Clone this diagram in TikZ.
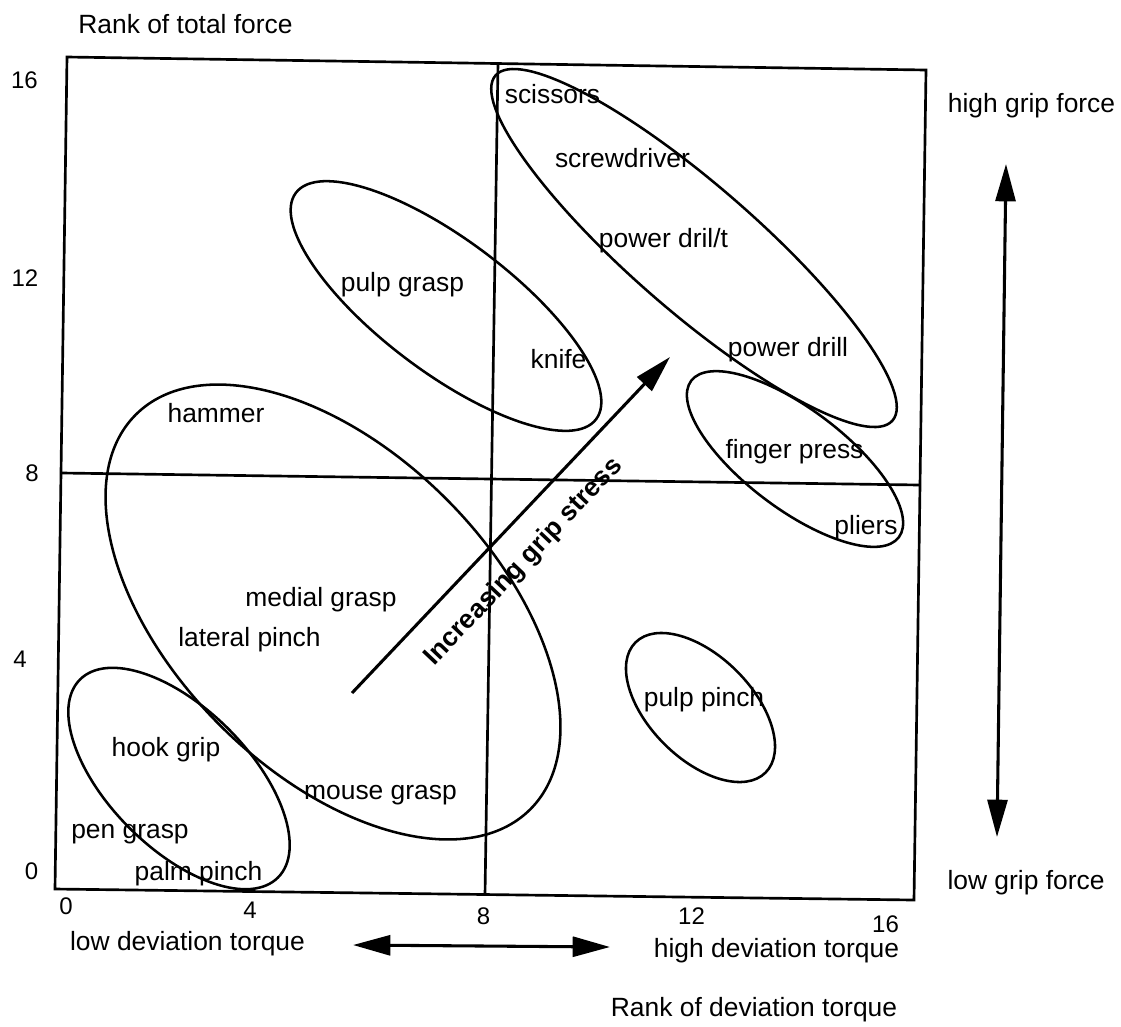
\documentclass[tikz,border=0pt]{standalone}
\usepackage{fontspec}
\setmainfont{Liberation Sans}
\usetikzlibrary{arrows.meta}

\begin{document}
\begin{tikzpicture}[x=0.75pt,y=-0.75pt]
        \tikzstyle{frame} = [line width=2pt]
        \tikzstyle{region} = [line width=1.9pt]
        \tikzstyle{tool} = [inner sep=0pt, anchor=base, font=\fontsize{19.8pt}{24pt}\selectfont]
        \tikzstyle{ticknum} = [inner sep=0pt, anchor=base, font=\fontsize{18pt}{21pt}\selectfont]
        \tikzstyle{dblarrow} = [line width=2.3pt, >={Triangle[length=28pt,width=15pt]}]
        \useasboundingbox (0,0) rectangle (1121,1026);

        % chart frame and the two mid lines
        \coordinate (tl) at (67,57);
        \coordinate (tr) at (926,70);
        \coordinate (br) at (914,900);
        \coordinate (bl) at (55,889);
        \coordinate (midleft) at (62,473);
        \coordinate (midright) at (920,485);
        \coordinate (midtop) at (498,63);
        \coordinate (midbottom) at (485,895);
        \draw [frame] (tl) -- (tr) -- (br) -- (bl) -- cycle;
        \draw [frame] (midleft) -- (midright);
        \draw [frame] (midtop) -- (midbottom);

        % tick numbers
        \node (y16) [ticknum] at (24.5,88) {16};
        \node (y12) [ticknum] at (25,286) {12};
        \node (y8) [ticknum] at (32,481) {8};
        \node (y4) [ticknum] at (20,667) {4};
        \node (y0) [ticknum] at (31.5,879) {0};
        \node (x0) [ticknum] at (66,914) {0};
        \node (x4) [ticknum] at (250,918) {4};
        \node (x8) [ticknum] at (483.5,924) {8};
        \node (x12) [ticknum] at (691.5,924) {12};
        \node (x16) [ticknum] at (885.5,932) {16};

        % axis texts
        \node (forcetitle) [tool] at (185.5,33) {Rank of total force};
        \node (torquetitle) [tool] at (754,1016) {Rank of deviation torque};
        \node (lowtorque) [tool] at (187.5,950) {low deviation torque};
        \node (hightorque) [tool] at (776.5,957) {high deviation torque};
        \node (highforce) [tool] at (1031.5,112) {high grip force};
        \node (lowforce) [tool] at (1026,889) {low grip force};

        % grip groups
        \draw [region, rotate around={-45:(333,612)}] (333,612) ellipse [x radius=279, y radius=160];
        \draw [region, rotate around={-45:(179,778.5)}] (179,778.5) ellipse [x radius=140, y radius=70];
        \draw [region, rotate around={-37:(446,306)}] (446,306) ellipse [x radius=188, y radius=66];
        \draw [region, rotate around={-41:(694,248)}] (694,248) ellipse [x radius=263, y radius=63];
        \draw [region, rotate around={-37:(795,459)}] (795,459) ellipse [x radius=130, y radius=50];
        \draw [region, rotate around={-45:(700.5,707.5)}] (700.5,707.5) ellipse [x radius=92, y radius=51.4];

        \node (scissors) [tool] at (552.5,103) {scissors};
        \node (screwdriver) [tool] at (622.5,167) {screwdriver};
        \node (drillt) [tool] at (663.5,247) {power dril/t};
        \node (knife) [tool] at (558.5,368) {knife};
        \node (drill) [tool] at (788,356) {power drill};
        \node (pulpgrasp) [tool] at (402.5,291) {pulp grasp};
        \node (hammer) [tool] at (216,422) {hammer};
        \node (fingerpress) [tool] at (794.5,458) {finger press};
        \node (pliers) [tool] at (866,534) {pliers};
        \node (medial) [tool] at (321,606) {medial grasp};
        \node (lateral) [tool] at (249.5,646) {lateral pinch};
        \node (pulppinch) [tool] at (704,706) {pulp pinch};
        \node (hook) [tool] at (166,756) {hook grip};
        \node (mouse) [tool] at (380.5,799) {mouse grasp};
        \node (pen) [tool] at (130,838) {pen grasp};
        \node (palm) [tool] at (198.5,880) {palm pinch};

        % arrows
        \coordinate (stressfrom) at (352,693);
        \coordinate (stressto) at (670,357);
        \coordinate (torqueleft) at (353,945);
        \coordinate (torqueright) at (610,947);
        \coordinate (forceup) at (1006,164);
        \coordinate (forcedown) at (997,837);
        \draw [dblarrow, ->] (stressfrom) -- (stressto);
        \draw [dblarrow, <->] (torqueleft) -- (torqueright);
        \draw [dblarrow, <->] (forcedown) -- (forceup);
        \node (stress) [tool, anchor=center, rotate=46.6, font=\fontsize{19.8pt}{24pt}\selectfont\bfseries] at (524,562) {Increasing grip stress};
    \end{tikzpicture}
\end{document}
